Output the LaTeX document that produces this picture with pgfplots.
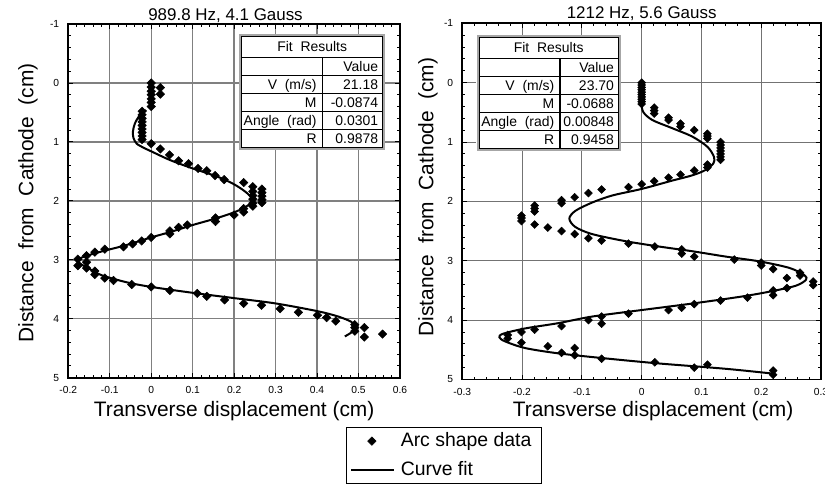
\documentclass[border=0pt]{standalone}
\usepackage{fontspec}
\setmainfont{Liberation Sans}
\usepackage{pgfplots}
\pgfplotsset{compat=1.18}

\pgfplotsset{
  arcaxis/.style={
    scale only axis,
    y dir=reverse,
    ymin=-1, ymax=5,
    ytick={-1,0,1,2,3,4,5},
    yticklabels={-1,0,1,2,3,4,5},
    minor x tick num=4,
    minor y tick num=4,
    tick align=inside,
    xtick pos=both, ytick pos=both,
    major tick length=5bp,
    minor tick length=3bp,
    tick style={black, line width=0.9bp},
    axis line style={black, line width=1.7bp},
    grid=major,
    tick label style={font=\fontsize{10.3}{12}\selectfont},
    xticklabel style={yshift=-5.5bp},
    yticklabel style={xshift=-5.6bp},
    label style={font=\fontsize{21}{25}\selectfont},
    title style={font=\fontsize{17}{20}\selectfont, anchor=base},
    ylabel={Distance\ \ from\ \ Cathode\ \ (cm)},
    xlabel={Transverse displacement (cm)},
  },
  diamondlegend/.style={legend image code/.code={%
    \path (0bp,0bp) (43bp,0bp);
    \draw[only marks, mark=square*, mark size=3pt, mark options={rotate=45, fill=black, draw=black, line width=0.5bp}]
      plot coordinates {(20.7bp,0bp)};}},
  linelegend/.style={legend image code/.code={%
    \draw[black, line width=1.2bp] (0bp,0bp) -- (43bp,0bp);}},
}

% Fit results table: #1 left x, #2 top y (pixels from top), #3 width, #4 column split offset,
% #5 V, #6 M, #7 Angle, #8 R
\newcommand{\fittable}[8]{%
\begin{scope}[yshift=485bp, x=1bp, y=-1bp, font=\fontsize{14}{16}\selectfont]
  \fill[white] (#1-2.6,#2-2.6) rectangle (#1+#3+2.6,#2+113.1);
  \draw[gray!70, line width=2.4bp] (#1-1.3,#2-1.3) rectangle (#1+#3+1.3,#2+111.8);
  \draw[black, line width=0.8bp] (#1,#2) rectangle (#1+#3,#2+110.5);
  \foreach \r in {0,1,2,3,4} {\draw[black, line width=0.8bp] (#1,#2+20.5+18*\r) -- (#1+#3,#2+20.5+18*\r);}
  \draw[black, line width=1.3bp] (#1+#4,#2+20.5) -- (#1+#4,#2+110.5);
  \node[anchor=base, inner sep=0pt] at (#1+#3/2,#2+15.3) {Fit\ \ Results};
  \node[anchor=base east, inner sep=0pt] at (#1+#3-4.4,#2+20.5+14) {Value};
  \node[anchor=base east, inner sep=0pt] at (#1+#4-5.5,#2+38.5+14) {V\ \ (m/s)};
  \node[anchor=base east, inner sep=0pt] at (#1+#3-4.4,#2+38.5+14) {#5};
  \node[anchor=base east, inner sep=0pt] at (#1+#4-5.5,#2+56.5+14) {M};
  \node[anchor=base east, inner sep=0pt] at (#1+#3-4.4,#2+56.5+14) {#6};
  \node[anchor=base east, inner sep=0pt] at (#1+#4-5.5,#2+74.5+14) {Angle\ \ (rad)};
  \node[anchor=base east, inner sep=0pt] at (#1+#3-4.4,#2+74.5+14) {#7};
  \node[anchor=base east, inner sep=0pt] at (#1+#4-5.5,#2+92.5+14) {R};
  \node[anchor=base east, inner sep=0pt] at (#1+#3-4.4,#2+92.5+14) {#8};
\end{scope}}

\begin{document}
\begin{tikzpicture}
\path[use as bounding box] (0,0) rectangle (825bp,485bp);

% ---------------- Left panel ----------------
\begin{axis}[arcaxis,
  at={(68.3bp,107.3bp)}, anchor=south west,
  width=331.7bp, height=353.7bp,
  xmin=-0.2, xmax=0.6,
  xtick={-0.2,-0.1,0,0.1,0.2,0.3,0.4,0.5,0.6},
  xticklabels={-0.2,-0.1,0,0.1,0.2,0.3,0.4,0.5,0.6},
  major grid style={gray, line width=1.4bp},
  title={989.8 Hz, 4.1 Gauss},
  title style={at={(axis description cs:0.474,1)}, yshift=-2bp},
  xlabel style={at={(axis description cs:0.5,-0.110)}, anchor=base},
  ylabel style={at={(axis description cs:-0.1055,0.494)}, anchor=base},
  legend style={
    at={(axis description cs:0.8372,-0.1402)}, anchor=north west,
    draw=black, line width=1.2bp, fill=white,
    inner xsep=4bp, inner ysep=2.7bp, row sep=8bp,
    nodes={inner xsep=6bp, inner ysep=1.5bp, text height=14bp, text depth=4bp},
    font=\fontsize{19.5}{22}\selectfont,
  },
  legend cell align=left,
]
\addplot[only marks, mark=square*, mark size=3pt,
  mark options={rotate=45, fill=black, draw=black, line width=0.5bp}, diamondlegend]
coordinates {
(0,0.0) (0,0.07) (0,0.14) (0,0.2) (0,0.27) (0,0.33) (0,0.4)
(0.022,0.08) (0.022,0.19)
(-0.022,0.48) (-0.022,0.54) (-0.022,0.6) (-0.022,0.66) (-0.022,0.72) (-0.022,0.78) (-0.022,0.84) (-0.022,0.9) (-0.022,0.96)
(0,1.03) (0.022,1.12) (0.044,1.22) (0.066,1.32) (0.09,1.37) (0.113,1.45) (0.134,1.49) (0.154,1.57) (0.176,1.64)
(0.223,1.69) (0.245,1.76) (0.267,1.80) (0.245,1.84) (0.267,1.86) (0.245,1.91) (0.267,1.92) (0.245,1.97) (0.267,1.98)
(0.245,2.04) (0.267,2.03) (0.245,2.09) (0.223,2.13) (0.223,2.19) (0.2,2.24)
(0.155,2.29) (0.155,2.35) (0.087,2.41) (0.066,2.45) (0.045,2.51) (0.045,2.56) (0,2.62) (-0.023,2.68) (-0.045,2.73)
(-0.067,2.78) (-0.112,2.82) (-0.136,2.87) (-0.156,2.93) (-0.177,2.99) (-0.156,3.04) (-0.177,3.10) (-0.156,3.14)
(-0.136,3.19) (-0.136,3.25) (-0.112,3.31) (-0.091,3.35) (-0.047,3.42) (0,3.46) (0.045,3.52) (0.111,3.57) (0.134,3.62)
(0.177,3.68) (0.223,3.74) (0.266,3.77) (0.311,3.83) (0.355,3.89) (0.401,3.94) (0.423,3.98) (0.445,4.04)
(0.491,4.10) (0.491,4.15) (0.514,4.15) (0.491,4.21) (0.514,4.31) (0.558,4.26)
};
\addlegendentry{Arc shape data}
\addplot[black, line width=2bp, smooth, no markers, linelegend]
coordinates {
(-0.012,0.46) (-0.03,0.57) (-0.04,0.7) (-0.044,0.82) (-0.043,0.93) (-0.035,1.03) (-0.018,1.1) (0,1.16)
(0.046,1.31) (0.1,1.45) (0.16,1.59) (0.2,1.72) (0.228,1.85) (0.243,1.96) (0.238,2.05) (0.218,2.14) (0.19,2.22)
(0.15,2.31) (0.1,2.41) (0.05,2.52) (0,2.62) (-0.06,2.75) (-0.115,2.85) (-0.155,2.93) (-0.178,3.0) (-0.17,3.07)
(-0.15,3.15) (-0.12,3.26) (-0.06,3.38) (0,3.46) (0.1,3.56) (0.2,3.65) (0.3,3.74) (0.4,3.87) (0.45,3.96)
(0.482,4.05) (0.492,4.13) (0.485,4.22) (0.467,4.3)
};
\addlegendentry{Curve fit}
\end{axis}

% ---------------- Right panel ----------------
\begin{axis}[arcaxis,
  at={(462.3bp,105.5bp)}, anchor=south west,
  width=358.7bp, height=356.2bp,
  xmin=-0.3, xmax=0.3,
  xtick={-0.3,-0.2,-0.1,0,0.1,0.2,0.3},
  xticklabels={-0.3,-0.2,-0.1,0,0.1,0.2,0.3},
  major grid style={gray!90!black, line width=0.9bp},
  title={1212 Hz, 5.6 Gauss},
  title style={at={(axis description cs:0.5,1)}, yshift=-1bp},
  xlabel style={at={(axis description cs:0.532,-0.1044)}, anchor=base},
  ylabel style={at={(axis description cs:-0.0808,0.512)}, anchor=base},
]
\addplot[only marks, mark=square*, mark size=2.8pt,
  mark options={rotate=45, fill=black, draw=black, line width=0.5bp}]
coordinates {
(0,0.0) (0,0.04) (0,0.08) (0,0.12) (0,0.16) (0,0.2) (0,0.24) (0,0.28) (0,0.32) (0,0.36)
(0.021,0.42) (0.021,0.47) (0.021,0.52)
(0.045,0.59) (0.045,0.63) (0.065,0.69) (0.065,0.74) (0.088,0.80)
(0.11,0.86) (0.11,0.9) (0.11,0.94)
(0.132,1.0) (0.132,1.05) (0.132,1.1) (0.132,1.15) (0.132,1.2) (0.132,1.25) (0.132,1.3)
(0.11,1.38) (0.11,1.43) (0.088,1.48) (0.065,1.55) (0.045,1.60) (0.021,1.66) (0,1.71) (-0.022,1.76)
(-0.067,1.80) (-0.089,1.86) (-0.112,1.93) (-0.134,1.98) (-0.134,2.03) (-0.179,2.07) (-0.179,2.12) (-0.179,2.17)
(-0.201,2.24) (-0.201,2.28) (-0.201,2.33) (-0.179,2.39) (-0.157,2.44) (-0.134,2.50) (-0.112,2.55) (-0.089,2.62)
(-0.067,2.66) (-0.022,2.71) (0.022,2.76) (0.067,2.81) (0.067,2.88) (0.088,2.93) (0.155,2.98) (0.2,3.03) (0.2,3.08)
(0.22,3.14) (0.265,3.20) (0.265,3.25) (0.243,3.29) (0.287,3.35) (0.287,3.41) (0.243,3.46) (0.22,3.50) (0.22,3.58)
(0.177,3.62) (0.132,3.67) (0.088,3.73) (0.067,3.79) (0.045,3.83) (-0.022,3.89) (-0.067,3.94) (-0.089,4.00)
(-0.067,4.06) (-0.134,4.10) (-0.179,4.16) (-0.201,4.20) (-0.224,4.25) (-0.224,4.31) (-0.201,4.38) (-0.157,4.44)
(-0.112,4.47) (-0.134,4.55) (-0.112,4.59) (-0.067,4.65) (0.022,4.71) (0.11,4.75) (0.088,4.80) (0.22,4.85) (0.22,4.92)
};
\addplot[black, line width=2bp, smooth, no markers]
coordinates {
(0,0.38) (0.003,0.5) (0.018,0.63) (0.052,0.77) (0.085,0.91) (0.11,1.08) (0.121,1.25) (0.12,1.36) (0.107,1.47)
(0.085,1.56) (0.051,1.65) (0,1.79) (-0.049,1.90) (-0.083,2.02) (-0.111,2.16) (-0.121,2.29) (-0.111,2.43)
(-0.083,2.55) (-0.027,2.67) (0.029,2.76) (0.085,2.84) (0.141,2.93) (0.197,3.01) (0.247,3.12) (0.272,3.24)
(0.275,3.32) (0.258,3.42) (0.219,3.51) (0.169,3.60) (0.085,3.72) (0.0,3.83) (-0.083,3.94) (-0.139,4.05)
(-0.195,4.14) (-0.232,4.23) (-0.238,4.29) (-0.228,4.36) (-0.195,4.47) (-0.139,4.56) (-0.055,4.65)
(0.029,4.73) (0.141,4.82) (0.219,4.90)
};
\end{axis}

% Fit result tables
\fittable{241.7}{36.7}{141}{80.6}{21.18}{-0.0874}{0.0301}{0.9878}
\fittable{479}{37.7}{139.5}{81}{23.70}{-0.0688}{0.00848}{0.9458}
\end{tikzpicture}
\end{document}
